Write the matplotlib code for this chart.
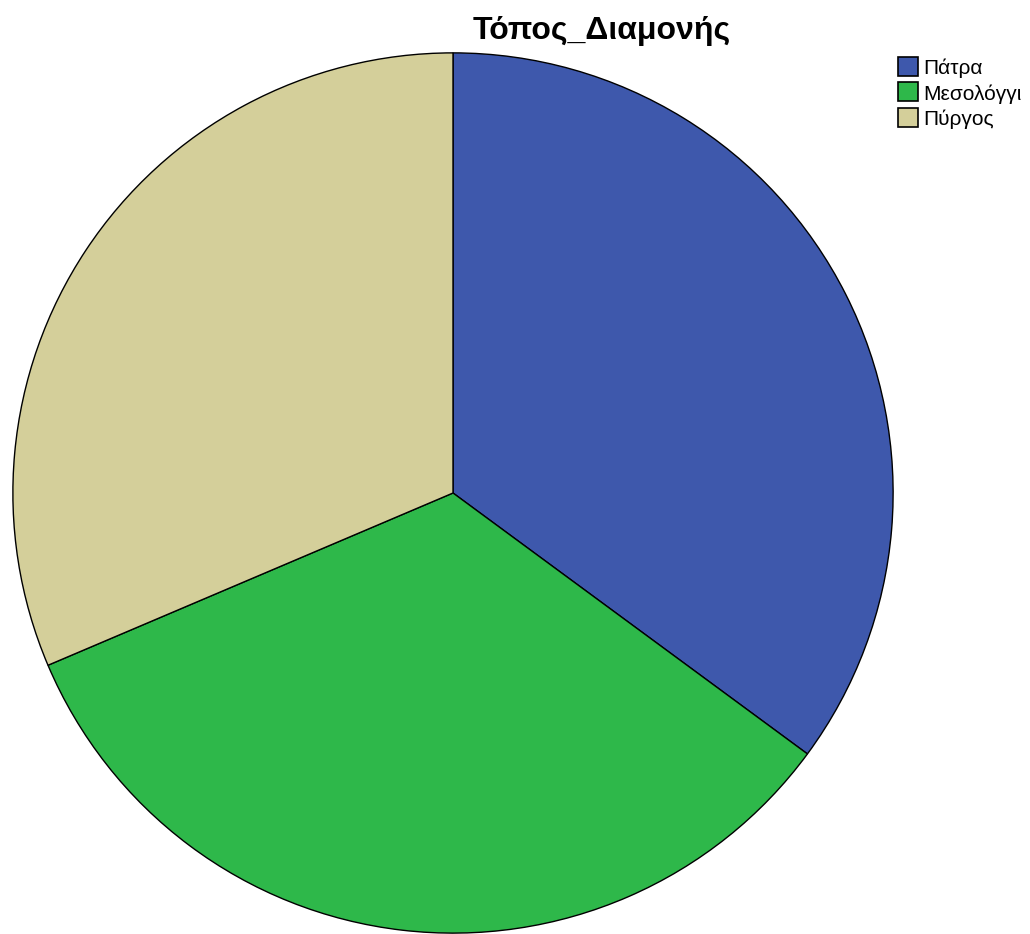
import matplotlib
matplotlib.use("Agg")
from matplotlib import pyplot as plt
from matplotlib.patches import Rectangle

plt.rcParams['font.family'] = ['Liberation Sans', 'DejaVu Sans']

labels = ['Πάτρα', 'Μεσολόγγι', 'Πύργος']
values = [35.1, 33.5, 31.4]
colors = ['#3e58ac', '#2eb84a', '#d4cf9a']
title = 'Τόπος_Διαμονής'

W, H = 1030, 934
fig = plt.figure(figsize=(W / 100, H / 100), dpi=100)
ax = fig.add_axes([12 / W, 0.0, 882 / W, 882 / H])
wedges, _ = ax.pie(values, colors=colors, startangle=90, counterclock=False,
                   radius=1, wedgeprops=dict(edgecolor='black', linewidth=1))
ax.set_xlim(-1.002, 1.002)
ax.set_ylim(-1.002, 1.002)
ax.axis('off')

fig.text(602 / W, 1 - 39 / H, title, ha='center', va='baseline',
         fontsize=23, fontweight='bold')

# legend
for i, (lab, c) in enumerate(zip(labels, colors)):
    yc = 66.5 + i * 25.3
    fig.patches.append(Rectangle((898 / W, 1 - (yc + 9.5) / H), 20 / W, 19 / H,
                                 facecolor=c, edgecolor='black', linewidth=1.2,
                                 transform=fig.transFigure, figure=fig))
    fig.text(923 / W, 1 - (yc + 8) / H, lab, ha='left', va='baseline', fontsize=15)

plt.savefig("out.png", dpi=100)
